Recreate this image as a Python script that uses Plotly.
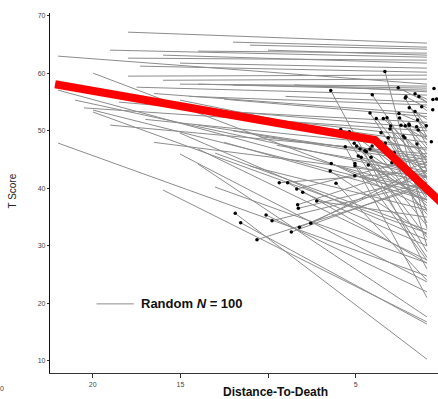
import plotly.graph_objects as go

# ---------------- data ----------------
# Red average trajectory: distance-to-death (years) and T score
avg_dist = [22.15, 3.9, 0.0]
avg_score = [58.1, 48.4, 37.2]

# Individual trajectories without a marked start (start dist, start score, end dist, end score)
long_d0 = [17.99, 12.0, 11.03, 13.99, 10.0, 19.01, 17.99, 15.99, 21.98, 15.02,
           17.30, 17.99, 15.99, 15.02, 13.99, 12.0, 17.5, 19.98, 21.98, 21.01,
           19.98, 19.98, 21.98, 15.02, 15.02, 13.99, 13.02, 15.02, 13.99, 11.03,
           15.99, 13.02, 16.5, 14.5, 12.5, 18.5, 16.0, 20.5, 13.5, 11.5,
           17.0, 14.0, 19.0, 12.0, 10.5, 16.5, 9.5, 12.5, 8.5, 9.0]
long_s0 = [67.17, 65.43, 64.91, 63.87, 64.04, 64.04, 62.65, 63.17, 63.0, 61.78,
           61.26, 59.52, 58.8, 58.13, 58.13, 57.96, 57.6, 60.04, 57.09, 55.35,
           53.61, 53.27, 47.88, 55.35, 49.62, 46.84, 46.14, 45.97, 44.23, 43.88,
           39.71, 40.23, 56.5, 56.0, 55.5, 55.0, 54.5, 54.0, 53.5, 52.5,
           52.0, 51.0, 51.0, 50.0, 49.0, 48.0, 47.5, 48.0, 58.0, 56.0]
long_s1 = [65.26, 64.56, 64.21, 63.52, 63.17, 62.82, 62.30, 61.78, 58.13, 60.91,
           60.21, 59.70, 59.0, 57.78, 57.09, 57.44, 56.22, 37.98, 39.71, 42.15,
           39.02, 32.24, 24.77, 46.66, 31.03, 27.55, 32.76, 23.73, 17.65, 36.24,
           16.78, 27.03, 53.0, 54.5, 52.5, 50.5, 48.0, 50.0, 51.5, 49.0,
           47.0, 45.0, 46.0, 44.5, 45.5, 42.0, 43.0, 38.0, 56.8, 55.0]
long_d1 = [0.93] * len(long_d0)

# Trajectories starting at a marked (black dot) observation
dot_d0 = [3.33, 6.42, 2.57, 4.05, 1.61, 2.13, 1.39, 2.17, 1.23, 1.94,
          1.61, 4.18, 2.53, 3.82, 3.42, 3.21, 1.46, 2.49, 3.0, 3.04,
          2.41, 2.17, 1.94, 1.96, 1.52, 1.43, 5.85, 5.36, 3.55, 3.14,
          2.28, 2.19, 1.50, 3.31, 2.8, 5.59, 5.08, 4.94, 4.75, 4.47,
          4.18, 4.06, 4.39, 4.85, 4.68, 4.12, 4.28, 5.04, 5.04, 6.39,
          6.45, 5.05, 6.12, 2.93, 8.36, 8.02, 9.36, 8.88, 7.22, 8.31,
          8.27, 11.87, 10.11, 9.77, 11.56, 7.56, 8.21, 8.67, 10.63]
dot_s0 = [60.34, 57.04, 57.49, 56.27, 56.45, 55.93, 55.99, 55.70, 54.19, 54.01,
          53.39, 53.09, 53.04, 52.17, 52.17, 52.28, 51.88, 52.22, 50.83, 50.31,
          51.0, 50.89, 50.96, 51.18, 50.71, 50.14, 50.26, 49.84, 49.67, 48.80,
          49.10, 48.80, 47.71, 47.83, 46.19, 47.24, 47.83, 47.36, 46.84, 46.54,
          46.84, 47.36, 46.37, 45.62, 45.40, 45.40, 44.06, 44.35, 43.94, 44.35,
          43.01, 42.20, 40.88, 44.46, 39.89, 39.31, 40.98, 40.98, 37.80, 37.16,
          36.53, 35.66, 35.37, 34.38, 34.03, 33.93, 33.23, 32.42, 31.08]
dot_s1 = [33.0, 26.0, 55.0, 42.0, 55.5, 54.0, 55.0, 49.0, 53.5, 52.0,
          50.5, 38.0, 51.0, 41.0, 45.0, 36.0, 50.0, 47.0, 30.0, 44.0,
          48.5, 46.0, 43.0, 49.0, 48.5, 47.5, 28.0, 40.0, 42.5, 38.5,
          45.5, 41.5, 44.5, 34.0, 40.5, 21.0, 37.0, 44.0, 31.5, 39.0,
          43.5, 35.5, 29.0, 37.5, 42.0, 33.5, 38.0, 27.5, 41.0, 36.5,
          32.0, 40.0, 24.0, 39.5, 45.5, 30.0, 43.0, 27.0, 35.0, 44.5,
          42.0, 10.3, 22.0, 41.0, 16.4, 44.0, 43.0, 41.0, 40.5]
dot_d1 = [0.93] * len(dot_d0)

# Extra marked observations very close to death
late_dot_d = [0.53, 0.59, 0.38, 0.60, 0.97, 0.68]
late_dot_s = [57.39, 55.47, 55.53, 53.67, 50.89, 48.11]

x_ticks = [20, 15, 10, 5]
x_tick_text = ["20", "15", "", "5"]
y_ticks = [10, 20, 30, 40, 50, 60, 70]

# ---------------- build figure ----------------
seg_x, seg_y = [], []
for a, b, c, d in zip(long_d0, long_s0, long_d1, long_s1):
    seg_x += [a, c, None]
    seg_y += [b, d, None]
for a, b, c, d in zip(dot_d0, dot_s0, dot_d1, dot_s1):
    seg_x += [a, c, None]
    seg_y += [b, d, None]

fig = go.Figure()
fig.add_trace(go.Scatter(x=seg_x, y=seg_y, mode="lines",
                         line=dict(color="#8c8c8c", width=1),
                         hoverinfo="skip", showlegend=False))
fig.add_trace(go.Scatter(x=dot_d0 + late_dot_d, y=dot_s0 + late_dot_s, mode="markers",
                         marker=dict(color="black", size=3.5),
                         hoverinfo="skip", showlegend=False))
fig.add_trace(go.Scatter(x=avg_dist, y=avg_score, mode="lines",
                         line=dict(color="#ff0000", width=8),
                         hoverinfo="skip", showlegend=False))

font_family = "Liberation Sans, Arial, sans-serif"

fig.update_layout(
    width=438, height=399,
    margin=dict(l=50, r=0, t=13, b=26),
    paper_bgcolor="white", plot_bgcolor="white",
    font=dict(family=font_family, color="#333333"),
    showlegend=False,
    xaxis=dict(range=[22.44, 0.30], tickmode="array", tickvals=x_ticks,
               ticktext=x_tick_text, ticks="outside", ticklen=4, tickwidth=1,
               tickcolor="#333333", showgrid=False, zeroline=False,
               showline=True, linecolor="#333333", linewidth=1.3,
               tickfont=dict(size=7, color="#444444")),
    yaxis=dict(range=[7.9, 70.5], tickmode="array", tickvals=y_ticks,
               ticks="outside", ticklen=2, tickwidth=1, tickcolor="#333333",
               showgrid=False, zeroline=False, showline=True,
               linecolor="#111111", linewidth=1.3,
               tickfont=dict(size=7, color="#444444")),
    annotations=[
        dict(text="<b>Distance-To-Death</b>", xref="paper", yref="paper",
             x=0.58, y=-0.054, xanchor="center", yanchor="middle",
             showarrow=False, font=dict(size=12, color="#111111", family=font_family)),
        dict(text="T Score", xref="paper", yref="paper", x=-0.097, y=0.505,
             textangle=-90, xanchor="center", yanchor="middle", showarrow=False,
             font=dict(size=10, color="#222222", family=font_family)),
        dict(text="<b>Random <i>N</i> = 100</b>", xref="paper", yref="paper",
             x=0.229, y=0.192, xanchor="left", yanchor="middle", showarrow=False,
             font=dict(size=13, color="#111111", family=font_family)),
        dict(text="0", xref="paper", yref="paper", x=-0.124, y=-0.042,
             xanchor="center", yanchor="middle", showarrow=False,
             font=dict(size=7, color="#444444", family=font_family)),
    ],
    shapes=[
        dict(type="line", xref="paper", yref="paper", x0=0.120, x1=0.216,
             y0=0.192, y1=0.192, line=dict(color="#8c8c8c", width=1)),
    ],
)

fig.write_html("out.html", config={"displayModeBar": False},
               post_script="document.body.style.margin='0px';")
